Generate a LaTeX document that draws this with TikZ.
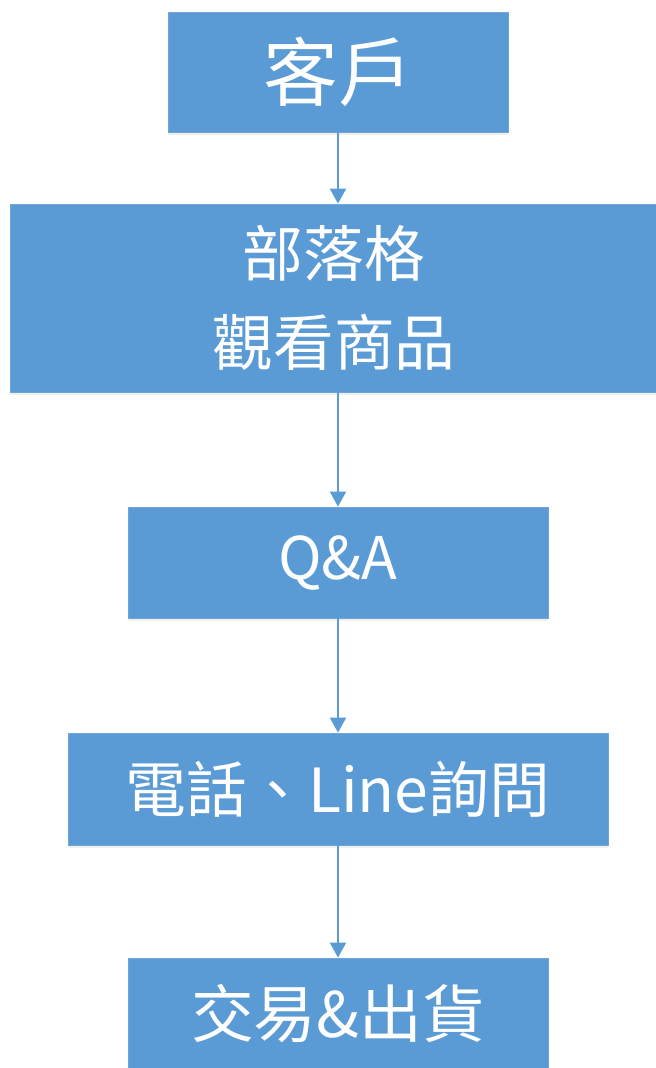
\documentclass[tikz,border=0pt]{standalone}
\usepackage{fontspec}
\setmainfont{Noto Sans CJK TC}
\usetikzlibrary{arrows.meta,shadows}
\definecolor{boxblue}{HTML}{5B9BD5}
\definecolor{boxedge}{HTML}{6FA6DA}
\begin{document}
\begin{tikzpicture}[x=1bp,y=-1bp,
  box/.style={rectangle, fill=boxblue, draw=boxedge, line width=0.8bp, inner sep=0pt,
    text=white, align=center,
    drop shadow={opacity=0.12, shadow xshift=0bp, shadow yshift=-3bp}},
  conn/.style={draw=boxblue, line width=2bp, -{Triangle[width=16bp,length=15bp]}}]
\useasboundingbox (0,0) rectangle (656,1068);
\node[box, minimum width=340bp, minimum height=120bp,
  font=\fontsize{75}{89}\selectfont] (b1) at (338,72) {客戶};
\node[box, minimum width=648bp, minimum height=188bp,
  font=\fontsize{61}{89}\selectfont] (b2) at (334,298) {部落格\\觀看商品};
\node[box, minimum width=420bp, minimum height=111bp,
  font=\fontsize{59}{70}\selectfont] (b3) at (338,562.5) {Q\&A};
\node[box, minimum width=540bp, minimum height=112bp,
  font=\fontsize{61}{70}\selectfont] (b4) at (338,789) {電話、Line詢問};
\node[box, minimum width=420bp, minimum height=112bp,
  font=\fontsize{63}{70}\selectfont] (b5) at (338,1014) {交易\&出貨};
\draw[conn] (b1.south) -- (b1.south |- b2.north);
\draw[conn] (b3.north |- b2.south) -- (b3.north);
\draw[conn] (b3.south) -- (b4.north);
\draw[conn] (b4.south) -- (b5.north);
\end{tikzpicture}
\end{document}
